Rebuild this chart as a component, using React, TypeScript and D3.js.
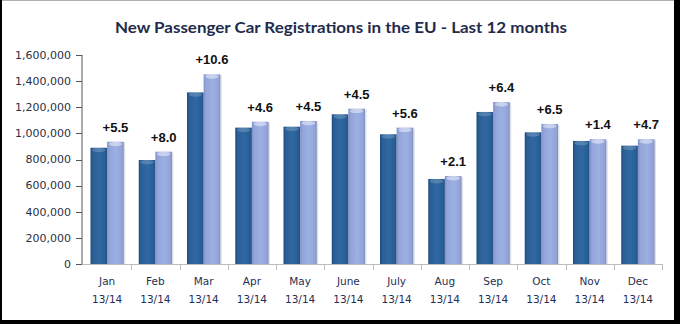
import React from "react";
import * as d3 from "d3";

const months = ["Jan", "Feb", "Mar", "Apr", "May", "June", "July", "Aug", "Sep", "Oct", "Nov", "Dec"];
const periodLabel = "13/14";
const regs2013 = [890000, 796000, 1314000, 1044000, 1051000, 1146000, 993000, 651000, 1164000, 1008000, 942000, 906000];
const regs2014 = [936000, 860000, 1452000, 1089000, 1095000, 1189000, 1044000, 674000, 1240000, 1072000, 955000, 955000];
const changes = ["+5.5", "+8.0", "+10.6", "+4.6", "+4.5", "+4.5", "+5.6", "+2.1", "+6.4", "+6.5", "+1.4", "+4.7"];
const yTicks = [0, 200000, 400000, 600000, 800000, 1000000, 1200000, 1400000, 1600000];
const title = "New Passenger Car Registrations in the EU - Last 12 months";

const W = 680;
const H = 324;

export default function App() {
  const x = d3.scaleBand<string>().domain(months).range([83, 662]).padding(0);
  const y = d3.scaleLinear().domain([0, 1600000]).range([264, 55]);
  const fmt = d3.format(",");
  const pad = 7.5;
  const bw = (x.bandwidth() - 2 * pad) / 2;
  const axisFont = "'DejaVu Sans', sans-serif";

  const bar = (xx: number, v: number, grad: string, capOp: number, key: string) => {
    const top = y(v);
    const h = y(0) - top;
    return (
      <g key={key}>
        <rect x={xx + 1.5} y={top + 1} width={bw} height={h - 1} fill="#000" opacity={0.12} />
        <rect x={xx} y={top} width={bw} height={h} fill={`url(#${grad})`} />
        <ellipse cx={xx + bw / 2} cy={top + 2.2} rx={bw / 2 - 1.5} ry={2.2} fill="#fff" opacity={capOp} />
      </g>
    );
  };

  return (
    <svg width={W} height={H} style={{ position: "absolute", left: 0, top: 0 }}>
      <defs>
        <linearGradient id="gDark" x1="0" x2="1" y1="0" y2="0">
          <stop offset="0" stopColor="#1d4c7e" />
          <stop offset="0.15" stopColor="#2a6098" />
          <stop offset="0.55" stopColor="#3068a2" />
          <stop offset="0.9" stopColor="#285c93" />
          <stop offset="1" stopColor="#1f4e80" />
        </linearGradient>
        <linearGradient id="gLight" x1="0" x2="1" y1="0" y2="0">
          <stop offset="0" stopColor="#7f91c9" />
          <stop offset="0.15" stopColor="#93a5da" />
          <stop offset="0.55" stopColor="#9db0e2" />
          <stop offset="0.9" stopColor="#90a2d8" />
          <stop offset="1" stopColor="#7c8ec6" />
        </linearGradient>
      </defs>
      <rect x={0} y={0} width={W} height={H} fill="#fff" />
      {/* frame */}
      <rect x={0} y={0} width={W} height={1} fill="#b0b0b0" />
      <rect x={0} y={0} width={2} height={H} fill="#000" />
      <rect x={674} y={0} width={6} height={H} fill="#000" />
      <rect x={0} y={320} width={W} height={4} fill="#000" />

      <text
        x={341}
        y={32.7}
        textAnchor="middle"
        fontFamily="Lato, 'Open Sans', sans-serif"
        fontWeight="bold"
        fontSize={16}
        fill="#1f2b4d"
        textLength={452}
        lengthAdjust="spacingAndGlyphs"
      >
        {title}
      </text>

      {/* y axis */}
      <line x1={82} x2={82} y1={y(1600000)} y2={y(0)} stroke="#555" strokeWidth={1} />
      {yTicks.map((t) => (
        <g key={t}>
          <line x1={76} x2={82} y1={Math.round(y(t)) + 0.5} y2={Math.round(y(t)) + 0.5} stroke="#555" />
          <text x={71} y={y(t)} dy="0.35em" textAnchor="end" fontFamily={axisFont} fontSize={11} fill="#2a2f45">
            {fmt(t)}
          </text>
        </g>
      ))}

      {/* bars */}
      {months.map((m, i) => {
        const x0 = (x(m) as number) + pad;
        return (
          <g key={m}>
            {bar(x0, regs2013[i], "gDark", 0.18, "a")}
            {bar(x0 + bw, regs2014[i], "gLight", 0.45, "b")}
            <text
              x={x0 + bw * 1.5}
              y={y(regs2014[i]) - 10}
              textAnchor="middle"
              fontFamily="'Liberation Sans', Arial, sans-serif"
              fontWeight="bold"
              fontSize={13}
              fill="#111"
            >
              {changes[i]}
            </text>
          </g>
        );
      })}

      {/* x axis */}
      <line x1={82} x2={662} y1={264.5} y2={264.5} stroke="#bdbdbd" />
      {months.map((m) => (
        <line key={m} x1={Math.round((x(m) as number) + x.bandwidth()) + 0.5} x2={Math.round((x(m) as number) + x.bandwidth()) + 0.5} y1={264} y2={270} stroke="#bdbdbd" />
      ))}
      {months.map((m) => {
        const cx = (x(m) as number) + x.bandwidth() / 2;
        return (
          <g key={m} fontFamily={axisFont} fontSize={10.5} fill="#1f2f55" textAnchor="middle">
            <text x={cx} y={285}>{m}</text>
            <text x={cx} y={303}>{periodLabel}</text>
          </g>
        );
      })}
    </svg>
  );
}
